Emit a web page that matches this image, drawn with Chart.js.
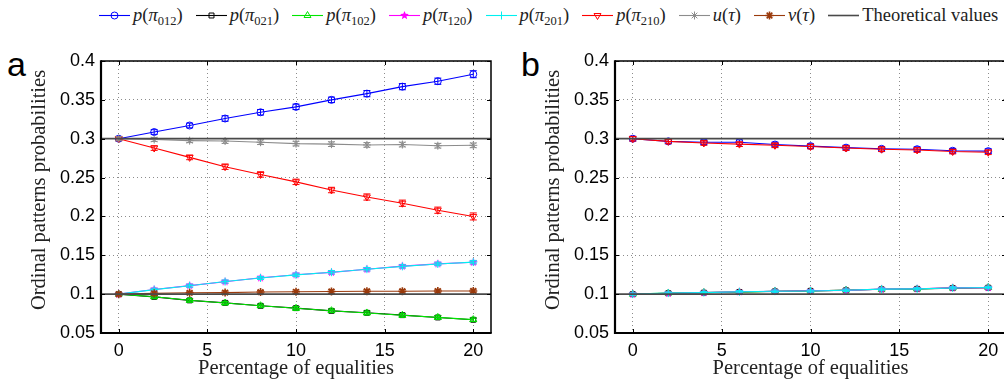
<!DOCTYPE html>
<html>
<head>
<meta charset="utf-8">
<script src="https://cdn.jsdelivr.net/npm/chart.js@4.4.1/dist/chart.umd.min.js"></script>
<style>
    html, body { margin: 0; padding: 0; background: #fff; }
    body { width: 1004px; height: 389px; overflow: hidden; position: relative; }
    canvas.panel { position: absolute; top: 0; }
    #legend {
        position: absolute; left: 99px; top: 2px; height: 26px;
        display: flex; align-items: center;
        font-family: 'Liberation Serif', 'Times New Roman', serif; font-size: 18.5px; color: #222;
        white-space: nowrap;
    }
    #legend .item { display: flex; align-items: center; margin-right: 13px; }
    #legend canvas { margin-right: 3px; }
    #legend sub { font-size: 12.5px; vertical-align: -4px; line-height: 0; }
    .tag {
        position: absolute; top: 47px; font-family: 'Liberation Sans', Arial, sans-serif;
        font-size: 34px; line-height: 1; color: #000;
    }
</style>
</head>
<body>
<div id="legend"></div>
<div class="tag" style="left:7px">a</div>
<div class="tag" style="left:521px">b</div>
<canvas id="chart-a" class="panel" style="left:0"></canvas>
<canvas id="chart-b" class="panel" style="left:500px"></canvas>
<script>
var SERIF = "'Liberation Serif', 'Times New Roman', serif";
var SANS = "'Liberation Sans', Arial, sans-serif";

// percentage of equalities
var xVals = [0, 2, 4, 6, 8, 10, 12, 14, 16, 18, 20];
var xTicks = [0, 5, 10, 15, 20];
var yTicks = [0.05, 0.1, 0.15, 0.2, 0.25, 0.3, 0.35, 0.4];
var theoValues = [0.3, 0.1];

var seriesKeys = ['p012', 'p021', 'p102', 'p120', 'p201', 'p210', 'u', 'v'];
var legendLabels = [
    '<i>p</i>(<i>π</i><sub>012</sub>)',
    '<i>p</i>(<i>π</i><sub>021</sub>)',
    '<i>p</i>(<i>π</i><sub>102</sub>)',
    '<i>p</i>(<i>π</i><sub>120</sub>)',
    '<i>p</i>(<i>π</i><sub>201</sub>)',
    '<i>p</i>(<i>π</i><sub>210</sub>)',
    '<i>u</i>(<i>τ</i>)',
    '<i>v</i>(<i>τ</i>)',
    'Theoretical values'
];

// panel a
var p012A = [0.300, 0.3086, 0.317, 0.326, 0.334, 0.341, 0.350, 0.358, 0.367, 0.374, 0.383];
var p021A = [0.100, 0.0965, 0.092, 0.0888, 0.085, 0.082, 0.0785, 0.076, 0.073, 0.070, 0.067];
var p102A = [0.100, 0.0966, 0.0921, 0.0886, 0.0851, 0.0818, 0.0787, 0.0758, 0.0728, 0.0701, 0.0672];
var p120A = [0.100, 0.106, 0.111, 0.116, 0.121, 0.125, 0.128, 0.132, 0.136, 0.139, 0.141];
var p201A = [0.100, 0.1058, 0.1108, 0.1162, 0.1208, 0.1248, 0.1282, 0.1321, 0.1357, 0.1388, 0.1412];
var p210A = [0.300, 0.288, 0.276, 0.264, 0.254, 0.2445, 0.234, 0.225, 0.217, 0.208, 0.200];
var uA = [0.300, 0.299, 0.2975, 0.297, 0.2955, 0.2937, 0.293, 0.292, 0.2925, 0.291, 0.2915];
var vA = [0.100, 0.101, 0.1017, 0.102, 0.1027, 0.103, 0.1034, 0.1037, 0.1038, 0.104, 0.1041];

// panel b
var p012B = [0.300, 0.2966, 0.2955, 0.2955, 0.2925, 0.2905, 0.2885, 0.2870, 0.2865, 0.2845, 0.2840];
var p021B = [0.100, 0.1012, 0.1019, 0.1028, 0.1036, 0.1042, 0.1050, 0.1062, 0.1068, 0.1078, 0.1083];
var p102B = [0.100, 0.1014, 0.1021, 0.1026, 0.1038, 0.1041, 0.1052, 0.1063, 0.1066, 0.1079, 0.1086];
var p120B = [0.100, 0.1011, 0.1020, 0.1031, 0.1037, 0.1043, 0.1049, 0.1065, 0.1069, 0.1081, 0.1084];
var p201B = [0.100, 0.1013, 0.1020, 0.1030, 0.1038, 0.1040, 0.1050, 0.1064, 0.1068, 0.1080, 0.1085];
var p210B = [0.300, 0.2966, 0.2945, 0.2930, 0.2915, 0.2900, 0.2880, 0.2865, 0.2855, 0.2835, 0.2826];

// error bar half widths
var errHighA = [0.0025, 0.003, 0.003, 0.0035, 0.0035, 0.0035, 0.0035, 0.004, 0.004, 0.004, 0.0045];
var errMidA = [0.0025, 0.0025, 0.0025, 0.003, 0.003, 0.003, 0.003, 0.003, 0.003, 0.003, 0.003];
var errLowA = [0.0015, 0.0018, 0.002, 0.002, 0.002, 0.0022, 0.0022, 0.0022, 0.0022, 0.0022, 0.0022];
var errHighB = [0.003, 0.003, 0.003, 0.003, 0.003, 0.003, 0.003, 0.003, 0.003, 0.003, 0.003];
var errLowB = [0.0015, 0.0015, 0.0015, 0.0015, 0.0015, 0.0015, 0.0015, 0.0015, 0.0015, 0.0015, 0.0015];

var xMin = -1, xMax = 21, yMin = 0.05, yMax = 0.4;

/**
 * Small filled pentagram used as point style for p(pi_120)
 */
function makePentagram(color, r) {
    let c = document.createElement('canvas');
    c.width = c.height = Math.ceil(r * 2 + 2);
    let ctx = c.getContext('2d');
    ctx.translate(c.width / 2, c.height / 2);
    ctx.beginPath();
    for (let i = 0; i < 10; i++) {
        let rr = i % 2 == 0 ? r : r * 0.45;
        let a = -Math.PI / 2 + i * Math.PI / 5;
        ctx.lineTo(rr * Math.cos(a), rr * Math.sin(a));
    }
    ctx.closePath();
    ctx.fillStyle = color;
    ctx.fill();
    return c;
}

var styles = {
    p012: { color: '#0000ff', point: 'circle', radius: 3.5, rotation: 0, width: 1 },
    p021: { color: '#000000', point: 'rect', radius: 3.5, rotation: 0, width: 1 },
    p102: { color: '#00e600', point: 'triangle', radius: 4, rotation: 0, width: 1 },
    p120: { color: '#ff00ff', point: makePentagram('#ff00ff', 4.5), radius: 4, rotation: 0, width: 1 },
    p201: { color: '#00f0f0', point: 'cross', radius: 4, rotation: 0, width: 1 },
    p210: { color: '#ff0000', point: 'triangle', radius: 4, rotation: 180, width: 1 },
    u: { color: '#8c8c8c', point: 'star', radius: 4, rotation: 0, width: 1 },
    v: { color: '#9a3a0c', point: 'star', radius: 4, rotation: 0, width: 1.6 },
    theo: { color: '#4a4a4a', point: false, radius: 0, rotation: 0, width: 1.8 }
};

function toPoints(values) {
    return xVals.map((x, i) => ({ x: x, y: values[i] }));
}

function makeDataset(key, values, errors) {
    let s = styles[key];
    return {
        label: key,
        data: toPoints(values),
        errors: errors,
        borderColor: s.color,
        borderWidth: 1.1,
        pointStyle: s.point,
        pointRadius: s.radius,
        pointRotation: s.rotation,
        pointBorderWidth: s.width,
        pointBorderColor: s.color,
        pointBackgroundColor: 'rgba(0,0,0,0)',
        tension: 0
    };
}

function theoDatasets() {
    return theoValues.map(v => ({
        label: 'Theoretical values',
        data: [{ x: xMin, y: v }, { x: xMax, y: v }],
        borderColor: styles.theo.color,
        borderWidth: styles.theo.width,
        pointRadius: 0
    }));
}

/**
 * Error bars, box frame, inward tick marks and rotated y title
 */
var framePlugin = {
    id: 'frame',
    afterDatasetDraw: function (chart, args) {
        let ds = chart.data.datasets[args.index];
        if (!ds.errors) return;
        let yScale = chart.scales.y, ctx = chart.ctx;
        ctx.save();
        ctx.strokeStyle = ds.borderColor;
        ctx.lineWidth = 1;
        args.meta.data.forEach(function (pt, i) {
            let v = ds.data[i].y, e = ds.errors[i];
            let y1 = yScale.getPixelForValue(v - e), y2 = yScale.getPixelForValue(v + e);
            ctx.beginPath();
            ctx.moveTo(pt.x, y1); ctx.lineTo(pt.x, y2);
            ctx.moveTo(pt.x - 3.5, y1); ctx.lineTo(pt.x + 3.5, y1);
            ctx.moveTo(pt.x - 3.5, y2); ctx.lineTo(pt.x + 3.5, y2);
            ctx.stroke();
        });
        ctx.restore();
    },
    afterDraw: function (chart, args, opts) {
        let ctx = chart.ctx, a = chart.chartArea;
        let xs = chart.scales.x, ys = chart.scales.y;
        ctx.save();
        // inward ticks
        ctx.strokeStyle = '#000';
        ctx.lineWidth = 1;
        ctx.beginPath();
        xTicks.forEach(function (t) {
            let px = Math.round(xs.getPixelForValue(t)) + 0.5;
            ctx.moveTo(px, a.bottom); ctx.lineTo(px, a.bottom - 4);
            ctx.moveTo(px, a.top); ctx.lineTo(px, a.top + 4);
        });
        yTicks.forEach(function (t) {
            let py = Math.round(ys.getPixelForValue(t)) + 0.5;
            ctx.moveTo(a.left, py); ctx.lineTo(a.left + 4, py);
            ctx.moveTo(a.right, py); ctx.lineTo(a.right - 4, py);
        });
        ctx.stroke();
        // box
        ctx.lineWidth = 1.5;
        ctx.beginPath();
        ctx.moveTo(a.left, a.top); ctx.lineTo(a.right, a.top); ctx.lineTo(a.right, a.bottom);
        ctx.stroke();
        ctx.lineWidth = 2.2;
        ctx.beginPath();
        ctx.moveTo(a.left, a.top - 0.7); ctx.lineTo(a.left, a.bottom); ctx.lineTo(a.right + 0.7, a.bottom);
        ctx.stroke();
        // y title
        ctx.translate(a.left - 61, (a.top + a.bottom) / 2 - 7);
        ctx.rotate(-Math.PI / 2);
        ctx.fillStyle = '#222';
        ctx.font = '20.5px ' + SERIF;
        ctx.textAlign = 'center';
        ctx.textBaseline = 'middle';
        ctx.fillText(opts.yTitle, 0, 0);
        ctx.restore();
    }
};

function createPanel(canvasId, width, padRight, yWidth, datasets) {
    let canvas = document.getElementById(canvasId);
    canvas.style.width = width + 'px';
    canvas.style.height = '389px';
    canvas.width = width;
    canvas.height = 389;
    datasets.forEach((d, i) => d.order = i < datasets.length - 2 ? datasets.length - i : 0);
    return new Chart(canvas, {
        type: 'line',
        data: { datasets: datasets },
        plugins: [framePlugin],
        options: {
            responsive: false,
            animation: false,
            layout: { padding: { top: 61, right: padRight, left: 0, bottom: 0 } },
            plugins: {
                legend: { display: false },
                tooltip: { enabled: false },
                frame: { yTitle: 'Ordinal patterns probabilities' }
            },
            scales: {
                x: {
                    type: 'linear', min: xMin, max: xMax,
                    afterBuildTicks: s => { s.ticks = xTicks.map(v => ({ value: v })); },
                    afterFit: s => { s.height = 56; },
                    ticks: { font: { size: 18, family: SANS }, color: '#000', padding: 7 },
                    grid: { color: 'rgba(0,0,0,0.45)', lineWidth: 1, drawTicks: false },
                    border: { display: false, dash: [1, 3] },
                    title: {
                        display: true, text: 'Percentage of equalities', color: '#222',
                        font: { size: 20.5, family: SERIF }, padding: { top: 0, bottom: 8 }
                    }
                },
                y: {
                    min: yMin, max: yMax,
                    afterBuildTicks: s => { s.ticks = yTicks.map(v => ({ value: v })); },
                    afterFit: s => { s.width = yWidth; },
                    ticks: {
                        font: { size: 18, family: SANS }, color: '#000', padding: 6,
                        callback: v => String(+v.toFixed(2))
                    },
                    grid: { color: 'rgba(0,0,0,0.45)', lineWidth: 1, drawTicks: false },
                    border: { display: false, dash: [1, 3] }
                }
            }
        }
    });
}

/**
 * Legend drawn with the chart library's point helper
 */
function buildLegend() {
    let $legend = document.getElementById('legend');
    let keys = seriesKeys.concat(['theo']);
    keys.forEach(function (key, i) {
        let s = styles[key];
        let item = document.createElement('span');
        item.className = 'item';
        let c = document.createElement('canvas');
        c.width = 31; c.height = 16;
        let ctx = c.getContext('2d');
        ctx.strokeStyle = s.color;
        ctx.lineWidth = key == 'theo' ? 1.6 : 1.1;
        ctx.beginPath();
        ctx.moveTo(0, 8.5); ctx.lineTo(31, 8.5);
        ctx.stroke();
        if (s.point) {
            ctx.lineWidth = s.width;
            ctx.fillStyle = 'rgba(0,0,0,0)';
            Chart.helpers.drawPoint(ctx, { pointStyle: s.point, rotation: s.rotation, radius: s.radius, borderWidth: s.width }, 15.5, 8.5);
        }
        item.appendChild(c);
        let lbl = document.createElement('span');
        lbl.innerHTML = legendLabels[i];
        item.appendChild(lbl);
        $legend.appendChild(item);
    });
}

var charts = {};
charts.a = createPanel('chart-a', 500, 9, 101, [
    makeDataset('p012', p012A, errHighA),
    makeDataset('p021', p021A, errLowA),
    makeDataset('p102', p102A, errLowA),
    makeDataset('p120', p120A, errLowA),
    makeDataset('p201', p201A, errLowA),
    makeDataset('p210', p210A, errHighA),
    makeDataset('u', uA, errMidA),
    makeDataset('v', vA, errLowA)
].concat(theoDatasets()));

charts.b = createPanel('chart-b', 520, 14, 115, [
    makeDataset('p012', p012B, errHighB),
    makeDataset('p021', p021B, errLowB),
    makeDataset('p102', p102B, errLowB),
    makeDataset('p120', p120B, errLowB),
    makeDataset('p201', p201B, errLowB),
    makeDataset('p210', p210B, errHighB)
].concat(theoDatasets()));

buildLegend();
</script>
</body>
</html>
